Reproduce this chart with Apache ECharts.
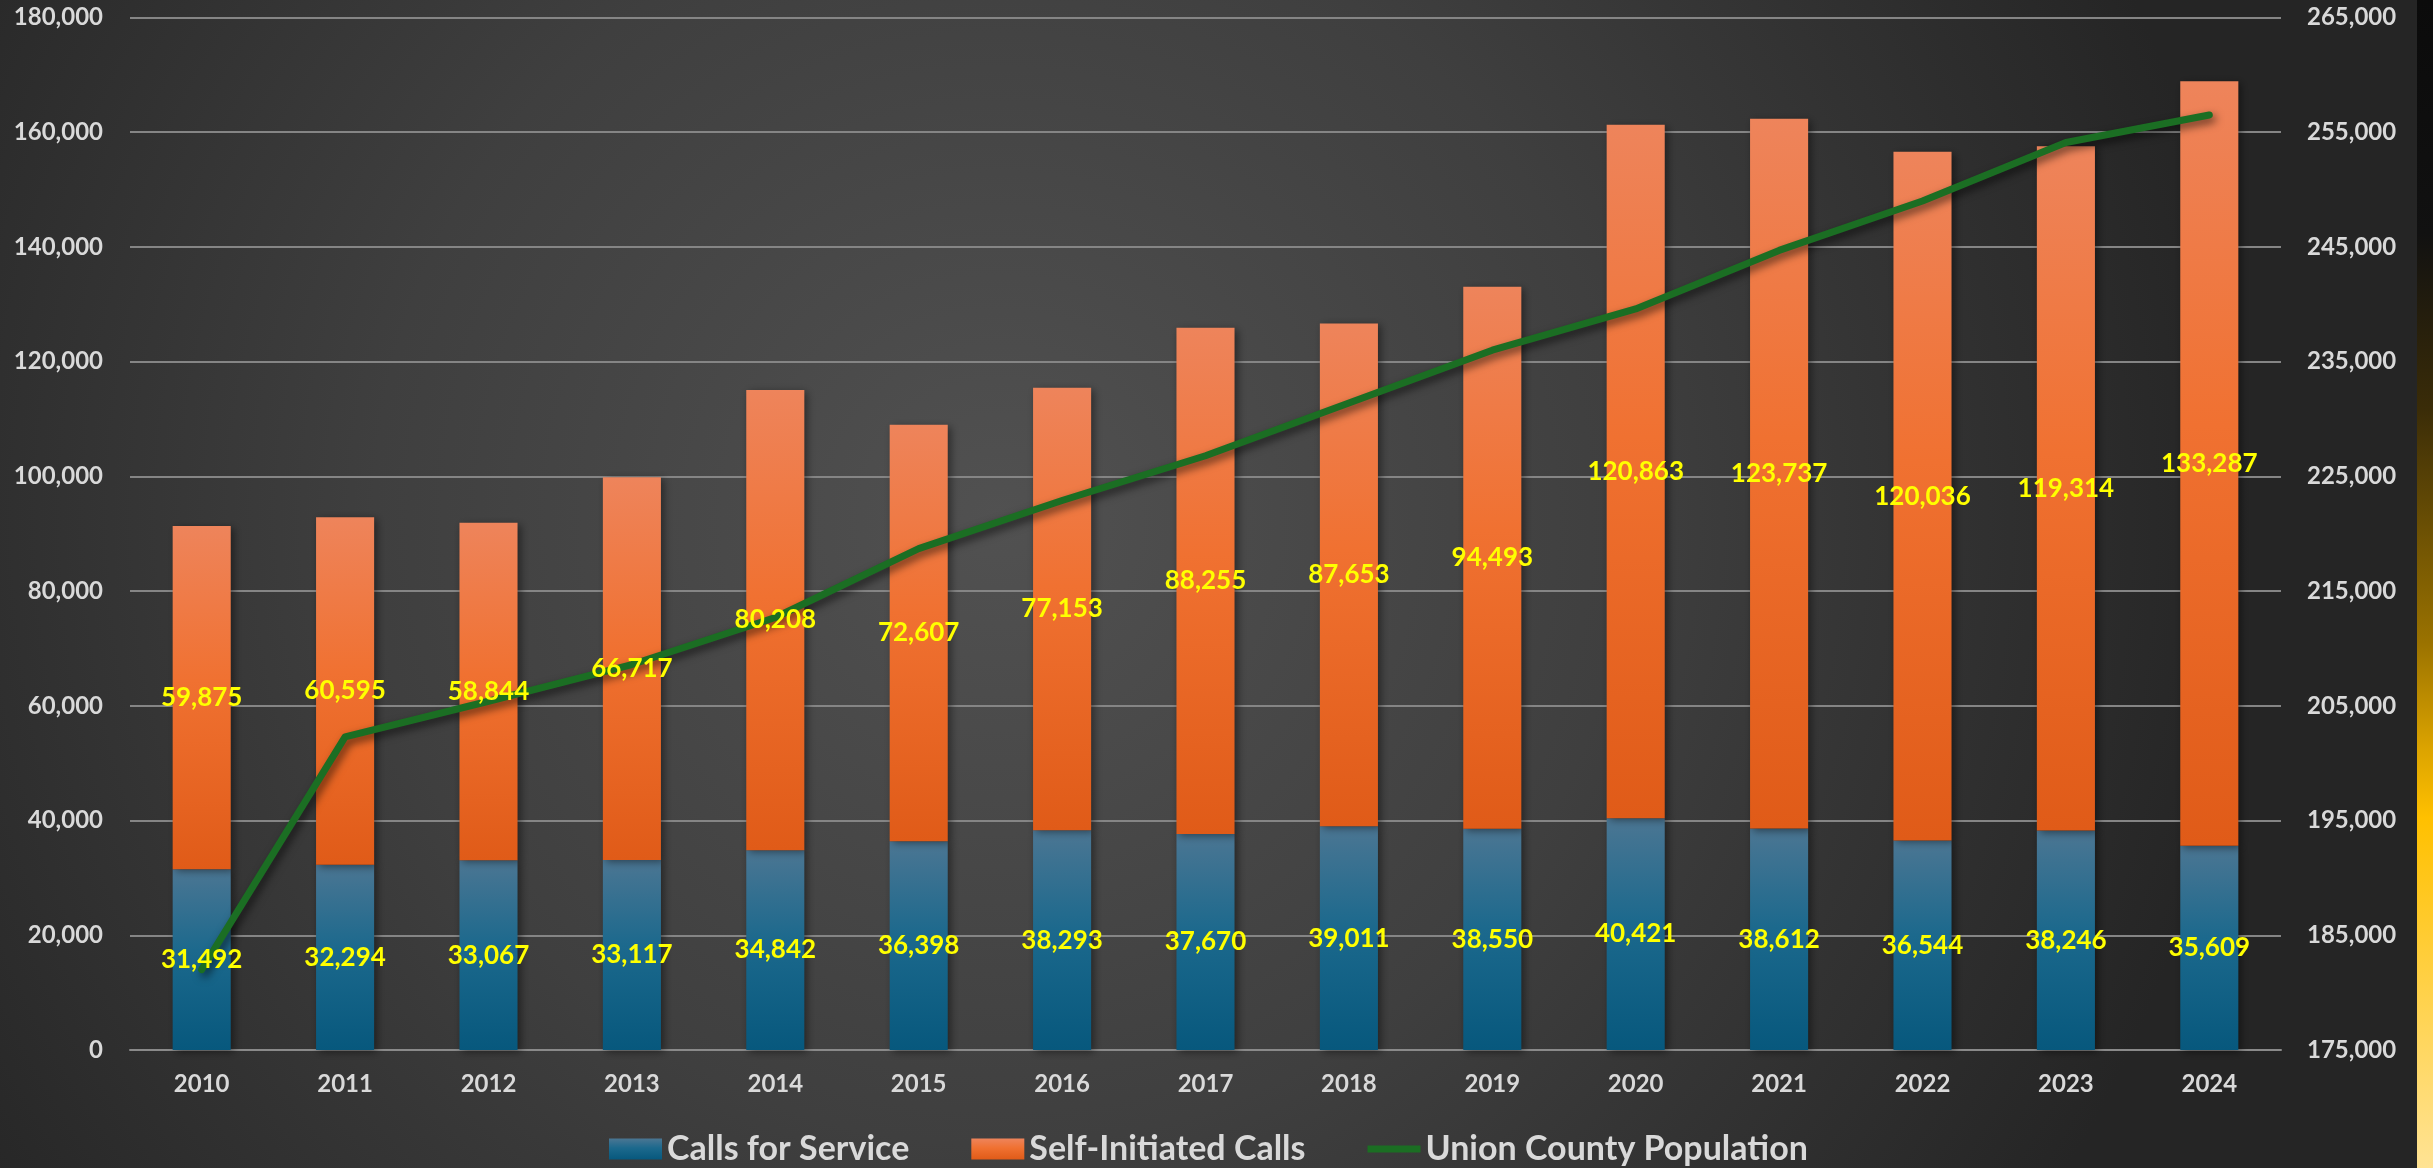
<!DOCTYPE html>
<html>
<head>
<meta charset="utf-8">
<script src="https://cdn.jsdelivr.net/npm/echarts@6/dist/echarts.min.js"></script>
<style>
html,body{margin:0;padding:0;background:#262626;}
#chart{width:2433px;height:1168px;}
</style>
</head>
<body>
<div id="chart"></div>
<script>
const years = ['2010','2011','2012','2013','2014','2015','2016','2017','2018','2019','2020','2021','2022','2023','2024'];
const callsForService = [31492, 32294, 33067, 33117, 34842, 36398, 38293, 37670, 39011, 38550, 40421, 38612, 36544, 38246, 35609];
const selfInitiated = [59875, 60595, 58844, 66717, 80208, 72607, 77153, 88255, 87653, 94493, 120863, 123737, 120036, 119314, 133287];
const population = [182000, 202300, 205400, 208600, 212700, 218700, 222900, 226800, 231400, 236000, 239600, 244700, 249000, 254100, 256500];

const leftTicks = [0, 20000, 40000, 60000, 80000, 100000, 120000, 140000, 160000, 180000];
const rightTicks = [175000, 185000, 195000, 205000, 215000, 225000, 235000, 245000, 255000, 265000];

const FONT = 'Lato';
const fmt = v => Number(v).toLocaleString('en-US');

const chart = echarts.init(document.getElementById('chart'), null, {renderer: 'canvas'});

const labelStyle = {
  show: true,
  position: 'inside',
  color: '#ffff00',
  fontFamily: FONT,
  fontWeight: 'bold',
  fontSize: 26,
  textBorderWidth: 0,
  formatter: p => fmt(p.value)
};

const barShadow = {shadowColor: 'rgba(0,0,0,0.45)', shadowBlur: 8, shadowOffsetX: 3, shadowOffsetY: 2};

const option = {
  backgroundColor: '#262626',
  animation: false,
  graphic: [
    {
      type: 'rect', z: -100, silent: true,
      shape: {x: 0, y: 0, width: 2417, height: 1168},
      style: {fill: new echarts.graphic.RadialGradient(1000, 520, 1250, [
        {offset: 0, color: '#515151'},
        {offset: 0.5, color: '#3f3f3f'},
        {offset: 1, color: '#252525'}
      ], true)}
    },
    {
      type: 'rect', z: -100, silent: true,
      shape: {x: 2417, y: 0, width: 16, height: 1168},
      style: {fill: new echarts.graphic.LinearGradient(0, 0, 0, 1, [
        {offset: 0, color: '#0b0b0b'},
        {offset: 0.2, color: '#111111'},
        {offset: 0.35, color: '#3a2c08'},
        {offset: 0.55, color: '#9a7200'},
        {offset: 0.64, color: '#dba300'},
        {offset: 0.7, color: '#ffc000'},
        {offset: 1, color: '#ffe394'}
      ])}
    }
  ],
  grid: {left: 130, right: 152, top: 17.5, bottom: 118, containLabel: false},
  legend: {
    left: 604, top: 1127,
    itemWidth: 53, itemHeight: 21, itemGap: 62,
    textStyle: {color: '#d9d9d9', fontFamily: FONT, fontWeight: 'bold', fontSize: 34},
    data: [
      {name: 'Calls for Service', icon: 'rect'},
      {name: 'Self-Initiated Calls', icon: 'rect'},
      {name: 'Union County Population', icon: 'path://M0,0 M0,7 L53,7 L53,14 L0,14 Z M53,21'}
    ]
  },
  xAxis: {
    type: 'category',
    data: years,
    axisLine: {show: true, lineStyle: {color: '#8a8a8a', width: 2}},
    axisTick: {show: false},
    axisLabel: {color: '#d9d9d9', fontFamily: FONT, fontWeight: 'bold', fontSize: 24, margin: 22}
  },
  yAxis: [
    {
      type: 'value', min: 0, max: 180000, interval: 20000,
      axisLine: {show: false}, axisTick: {show: false},
      splitLine: {show: true, lineStyle: {color: '#858585', width: 2}},
      axisLabel: {color: '#d9d9d9', fontFamily: FONT, fontWeight: 'bold', fontSize: 24, margin: 27,
        customValues: leftTicks, formatter: v => fmt(v)}
    },
    {
      type: 'value', min: 175000, max: 265000, interval: 10000,
      axisLine: {show: false}, axisTick: {show: false},
      splitLine: {show: false},
      axisLabel: {color: '#d9d9d9', fontFamily: FONT, fontWeight: 'bold', fontSize: 24, margin: 26,
        customValues: rightTicks, formatter: v => fmt(v)}
    }
  ],
  series: [
    {
      name: 'Calls for Service', type: 'bar', stack: 'calls', barWidth: '40.5%', barGap: '-100%',
      data: callsForService, z: 2,
      itemStyle: Object.assign({
        color: new echarts.graphic.LinearGradient(0, 0, 0, 1, [
          {offset: 0, color: '#4b7693'},
          {offset: 0.45, color: '#1c698d'},
          {offset: 1, color: '#07587d'}
        ])
      }, barShadow)
    },
    {
      name: 'Self-Initiated Calls', type: 'bar', stack: 'calls', barWidth: '40.5%', barGap: '-100%',
      data: selfInitiated, z: 2,
      itemStyle: Object.assign({
        color: new echarts.graphic.LinearGradient(0, 0, 0, 1, [
          {offset: 0, color: '#ee845b'},
          {offset: 0.45, color: '#f07131'},
          {offset: 1, color: '#e05b18'}
        ])
      }, barShadow)
    },
    {
      name: 'Union County Population', type: 'line', yAxisIndex: 1,
      data: population,
      symbol: 'none',
      itemStyle: {color: '#1b6e23'},
      lineStyle: {color: '#1b6e23', width: 7, cap: 'round', join: 'round',
        shadowColor: 'rgba(0,0,0,0.6)', shadowBlur: 8, shadowOffsetX: 3, shadowOffsetY: 4},
      z: 3
    },
    {
      name: 'calls-labels', type: 'bar', stack: 'labels', barWidth: '40.5%', barGap: '-100%',
      data: callsForService, z: 6, silent: true,
      itemStyle: {color: 'rgba(0,0,0,0)'},
      label: labelStyle
    },
    {
      name: 'self-labels', type: 'bar', stack: 'labels', barWidth: '40.5%', barGap: '-100%',
      data: selfInitiated, z: 6, silent: true,
      itemStyle: {color: 'rgba(0,0,0,0)'},
      label: labelStyle
    }
  ]
};
chart.setOption(option);
</script>
</body>
</html>
